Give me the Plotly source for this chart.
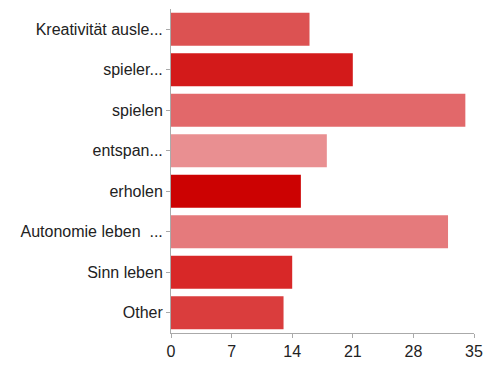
import plotly.graph_objects as go

categories = ["Kreativität ausle...", "spieler...", "spielen", "entspan...", "erholen",
              "Autonomie leben  ...", "Sinn leben", "Other"]
values = [16, 21, 34, 18, 15, 32, 14, 13]
colors = ["#dc5252", "#d31a1a", "#e2686a", "#e98f91", "#cc0202", "#e57a7c", "#d82828", "#da3d3d"]
x_ticks = [0, 7, 14, 21, 28, 35]

fig = go.Figure(go.Bar(
    x=values, y=categories, orientation="h",
    marker=dict(color=colors, line=dict(width=0)),
))

fig.update_layout(
    width=484, height=365,
    margin=dict(l=171, r=10, t=9, b=32),
    paper_bgcolor="white", plot_bgcolor="white",
    bargap=0.19,
    showlegend=False,
    font=dict(family="Liberation Sans, Arial, sans-serif", size=16, color="#222222"),
)
fig.update_yaxes(
    autorange="reversed", showline=True, linecolor="#aaaaaa", linewidth=1,
    ticks="outside", ticklen=4, tickcolor="#aaaaaa", showgrid=False,
    tickfont=dict(size=16, color="#222222"), automargin=False,
)
fig.update_xaxes(
    range=[0, 35], tickvals=x_ticks, showline=True, linecolor="#aaaaaa", linewidth=1,
    ticks="outside", ticklen=4, tickcolor="#aaaaaa", showgrid=False, zeroline=False,
    tickfont=dict(size=16, color="#222222"), automargin=False,
)

fig.write_html("out.html")
